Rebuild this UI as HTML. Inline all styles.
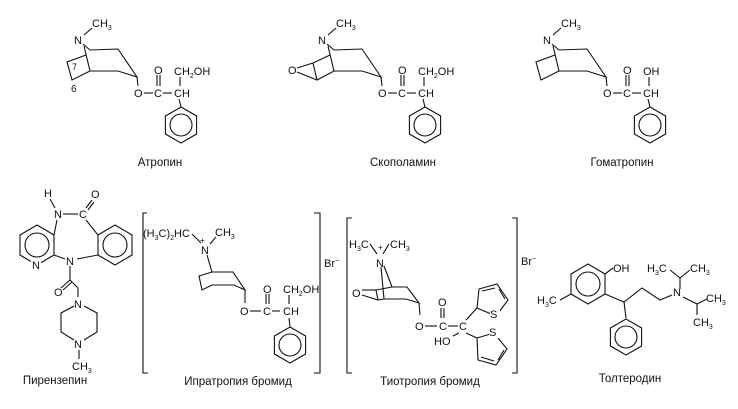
<!DOCTYPE html>
<html><head><meta charset="utf-8"><style>
html,body{margin:0;padding:0;background:#fff;width:738px;height:409px;overflow:hidden}
svg{display:block}
text{font-family:"Liberation Sans",sans-serif;font-size:11px;fill:#111}
.c{font-size:11.5px;text-anchor:middle}
.s{font-size:7px}
line,polyline,polygon,circle,path{stroke:#111;stroke-width:1.1;fill:none}
rect.w{fill:#fff;stroke:none}
</style></head><body>
<svg width="738" height="409" viewBox="0 0 738 409">
<defs>
<g id="benz"><polygon points="0,-18 15.6,-9 15.6,9 0,18 -15.6,9 -15.6,-9"/><circle r="11"/></g>
<g id="trop">
<text x="74" y="44">N</text>
<line x1="84" y1="35" x2="92" y2="28"/>
<text x="92" y="27">CH<tspan class="s" dy="3">3</tspan></text>
<line x1="83" y1="44" x2="90" y2="50"/>
<polyline points="90,50 118,49 137,77 118,71 90,71"/>
<line x1="84" y1="46" x2="90" y2="71"/>
<line x1="137" y1="77" x2="138" y2="86"/>
<text x="134" y="97">O</text>
<line x1="144" y1="93" x2="153" y2="93"/>
<text x="154" y="97">C</text>
<line x1="163" y1="93" x2="172" y2="93"/>
<text x="174" y="97">CH</text>
<line x1="157" y1="75" x2="157" y2="86"/><line x1="160" y1="75" x2="160" y2="86"/>
<text x="154" y="74">O</text>
<line x1="179" y1="99" x2="181" y2="107"/>
<use href="#benz" x="181" y="125"/>
</g>
</defs>

<!-- Atropine -->
<use href="#trop"/>
<polyline points="90,71 72,80 67,62 86,55"/>
<text x="72" y="70" style="font-size:9px">7</text>
<text x="71" y="92" style="font-size:10px">6</text>
<line x1="180" y1="77" x2="180" y2="86"/>
<text x="174" y="75">CH<tspan class="s" dy="3">2</tspan><tspan dy="-3">OH</tspan></text>
<text class="c" x="160" y="166">Атропин</text>

<!-- Scopolamine -->
<g transform="translate(244,0)">
<use href="#trop"/>
<polyline points="86,55 69,63 73,80 90,71"/>
<text x="44" y="74">O</text>
<line x1="53" y1="68" x2="69" y2="63"/><line x1="53" y1="72" x2="73" y2="80"/>
<line x1="180" y1="77" x2="180" y2="86"/>
<text x="174" y="75">CH<tspan class="s" dy="3">2</tspan><tspan dy="-3">OH</tspan></text>
</g>
<text class="c" x="403" y="166">Скополамин</text>

<!-- Homatropine -->
<g transform="translate(469,0)">
<use href="#trop"/>
<polyline points="90,71 72,80 67,62 86,55"/>
<line x1="180" y1="77" x2="180" y2="86"/>
<text x="174" y="75">OH</text>
</g>
<text class="c" x="622" y="166">Гоматропин</text>

<!-- Pirenzepine -->
<text x="44" y="197">H</text>
<line x1="50" y1="199" x2="55" y2="208"/>
<text x="54" y="218">N</text>
<line x1="63" y1="214" x2="78" y2="214"/>
<text x="79" y="218">C</text>
<line x1="86" y1="208" x2="92" y2="200"/><line x1="88" y1="210" x2="94" y2="202"/>
<text x="91" y="198">O</text>
<polygon points="37,225 54,235 54,255 37,265 20,255 20,235"/>
<circle cx="37" cy="245" r="12"/>
<rect class="w" x="31" y="259" width="10" height="11"/>
<text x="32" y="269">N</text>
<line x1="54" y1="235" x2="57" y2="220"/>
<polygon points="115,225 132,235 132,255 115,265 98,255 98,235"/>
<circle cx="115" cy="245" r="12"/>
<line x1="98" y1="235" x2="86" y2="220"/>
<text x="66" y="265">N</text>
<line x1="54" y1="255" x2="65" y2="259"/><line x1="98" y1="255" x2="77" y2="259"/>
<line x1="70" y1="266" x2="70" y2="280"/>
<line x1="70" y1="280" x2="61" y2="288"/><line x1="72" y1="282" x2="63" y2="290"/>
<text x="54" y="296">O</text>
<line x1="70" y1="280" x2="78" y2="288"/><line x1="78" y1="288" x2="78" y2="297"/>
<text x="74" y="308">N</text>
<polyline points="74,306 61,313 61,332 74,340"/>
<polyline points="84,306 97,313 97,332 84,340"/>
<text x="74" y="348">N</text>
<line x1="79" y1="350" x2="79" y2="359"/>
<text x="72" y="370">CH<tspan class="s" dy="3">3</tspan></text>
<text class="c" x="55" y="384">Пирензепин</text>

<!-- Ipratropium -->
<polyline points="147,213 143,213 143,373 148,373"/>
<polyline points="314,213 320,213 320,373 314,373"/>
<text x="324" y="267">Br<tspan class="s" dy="-4">−</tspan></text>
<text x="143" y="237">(H<tspan class="s" dy="3">3</tspan><tspan dy="-3">C)</tspan><tspan class="s" dy="3">2</tspan><tspan dy="-3">HC</tspan></text>
<line x1="192" y1="234" x2="201" y2="243"/>
<text x="200" y="243" style="font-size:8px">+</text>
<text x="201" y="254">N</text>
<line x1="210" y1="244" x2="216" y2="237"/>
<text x="215" y="236">CH<tspan class="s" dy="3">3</tspan></text>
<line x1="207" y1="255" x2="212" y2="272"/>
<polyline points="212,272 233,272 245,290 234,285 212,285"/>
<polyline points="212,272 199,276 202,290 212,285"/>
<line x1="245" y1="290" x2="245" y2="303"/>
<text x="240" y="315">O</text>
<line x1="250" y1="311" x2="261" y2="311"/>
<text x="263" y="315">C</text>
<line x1="272" y1="311" x2="280" y2="311"/>
<text x="283" y="315">CH</text>
<line x1="266" y1="294" x2="266" y2="304"/><line x1="269" y1="294" x2="269" y2="304"/>
<text x="263" y="293">O</text>
<line x1="289" y1="295" x2="289" y2="304"/>
<text x="283" y="293">CH<tspan class="s" dy="3">2</tspan><tspan dy="-3">OH</tspan></text>
<line x1="289" y1="318" x2="290" y2="327"/>
<use href="#benz" x="290" y="345"/>
<text class="c" x="238" y="385">Ипратропия бромид</text>

<!-- Tiotropium -->
<polyline points="352,218 347,218 347,373 352,373"/>
<polyline points="512,218 517,218 517,373 512,373"/>
<text x="521" y="265">Br<tspan class="s" dy="-4">−</tspan></text>
<text x="349" y="248">H<tspan class="s" dy="3">3</tspan><tspan dy="-3">C</tspan></text>
<text x="390" y="248">CH<tspan class="s" dy="3">3</tspan></text>
<line x1="370" y1="244" x2="377" y2="254"/><line x1="389" y1="244" x2="383" y2="254"/>
<text x="378" y="250" style="font-size:8px">+</text>
<text x="376" y="267">N</text>
<line x1="384" y1="266" x2="392" y2="287"/>
<line x1="381" y1="267" x2="384" y2="299"/>
<polyline points="376,290 392,287 407,287 419,303 406,299 384,299"/>
<polyline points="376,290 378,300 384,299"/>
<text x="352" y="297">O</text>
<line x1="362" y1="290" x2="376" y2="290"/><line x1="362" y1="295" x2="378" y2="300"/>
<line x1="419" y1="303" x2="420" y2="315"/>
<text x="415" y="330">O</text>
<line x1="425" y1="326" x2="437" y2="326"/>
<text x="439" y="330">C</text>
<line x1="448" y1="326" x2="458" y2="326"/>
<text x="459" y="330">C</text>
<line x1="441" y1="308" x2="441" y2="318"/><line x1="444" y1="308" x2="444" y2="318"/>
<text x="438" y="306">O</text>
<text x="434" y="345">HO</text>
<line x1="459" y1="333" x2="453" y2="336"/>
<line x1="466" y1="320" x2="477" y2="308"/>
<polygon points="477,308 479,289 497,284 508,300 496,316"/>
<line x1="482" y1="291" x2="495" y2="288"/><line x1="499" y1="289" x2="505" y2="299"/>
<rect class="w" x="490" y="308" width="10" height="12"/>
<text x="490" y="318">S</text>
<line x1="466" y1="333" x2="477" y2="338"/>
<polygon points="477,338 478,360 496,365 507,349 494,333"/>
<line x1="481" y1="357" x2="494" y2="361"/><line x1="498" y1="360" x2="504" y2="350"/>
<rect class="w" x="489" y="326" width="10" height="12"/>
<text x="489" y="336">S</text>
<text class="c" x="430" y="385">Тиотропия бромид</text>

<!-- Tolterodine -->
<polygon points="588,264 605,274 605,294 588,304 571,294 571,274"/>
<circle cx="588" cy="284" r="12"/>
<line x1="605" y1="274" x2="613" y2="268"/>
<text x="613" y="272">OH</text>
<line x1="571" y1="294" x2="560" y2="300"/>
<text x="537" y="304">H<tspan class="s" dy="3">3</tspan><tspan dy="-3">C</tspan></text>
<polyline points="605,294 624,302 642,288 660,300 672,295"/>
<text x="673" y="296">N</text>
<line x1="624" y1="302" x2="626" y2="318"/>
<use href="#benz" x="626" y="337"/>
<line x1="680" y1="289" x2="680" y2="278"/><line x1="680" y1="278" x2="670" y2="270"/><line x1="680" y1="278" x2="690" y2="270"/>
<text x="647" y="272">H<tspan class="s" dy="3">3</tspan><tspan dy="-3">C</tspan></text>
<text x="690" y="272">CH<tspan class="s" dy="3">3</tspan></text>
<line x1="683" y1="297" x2="697" y2="304"/><line x1="697" y1="304" x2="707" y2="299"/><line x1="697" y1="304" x2="697" y2="315"/>
<text x="706" y="302">CH<tspan class="s" dy="3">3</tspan></text>
<text x="693" y="326">CH<tspan class="s" dy="3">3</tspan></text>
<text class="c" x="630" y="382">Толтеродин</text>
</svg>
</body></html>
